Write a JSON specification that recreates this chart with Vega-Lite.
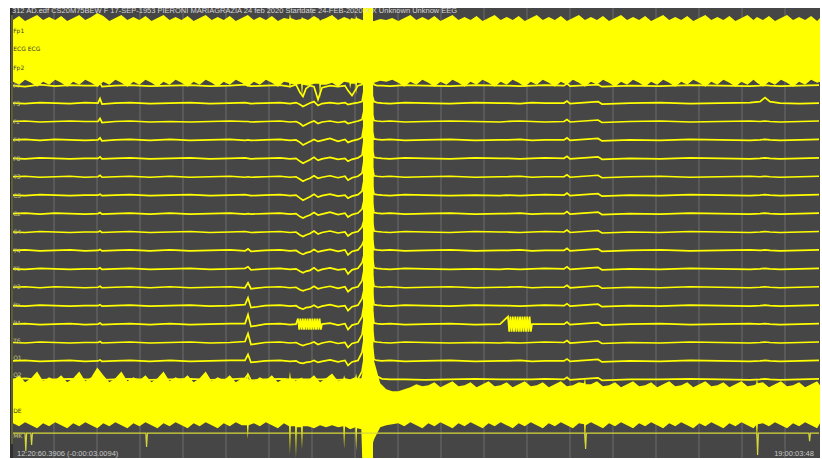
{
"$schema":"https://vega.github.io/schema/vega-lite/v6.json",
"width":822,"height":459,
"autosize":{"type":"fit","contains":"padding"},
"padding":{"left":10,"right":2,"top":7,"bottom":0},
"background":"#ffffff",
"config":{"view":{"fill":"#464646","stroke":null}},
"datasets":{
"grid":[{"t":1},{"t":2},{"t":3},{"t":4},{"t":5},{"t":6},{"t":7},{"t":8},{"t":9},{"t":10},{"t":11},{"t":12},{"t":13},{"t":14},{"t":15},{"t":16},{"t":17},{"t":18}],
"band":[
{"t":0.047,"th":19,"tl":81,"bh":381,"bl":424},{"t":0.187,"th":15,"tl":84,"bh":376,"bl":427},{"t":0.327,"th":20,"tl":79,"bh":383,"bl":423},{"t":0.467,"th":17,"tl":82,"bh":379,"bl":426},{"t":0.607,"th":14,"tl":86,"bh":372,"bl":429},{"t":0.747,"th":19,"tl":81,"bh":382,"bl":424},{"t":0.887,"th":16,"tl":84,"bh":378,"bl":427},{"t":1.027,"th":19,"tl":79,"bh":381,"bl":423},{"t":1.167,"th":15,"tl":82,"bh":376,"bl":426},{"t":1.307,"th":20,"tl":86,"bh":383,"bl":429},{"t":1.447,"th":17,"tl":81,"bh":379,"bl":424},{"t":1.587,"th":14,"tl":84,"bh":372,"bl":427},{"t":1.727,"th":19,"tl":79,"bh":382,"bl":423},{"t":1.867,"th":16,"tl":82,"bh":378,"bl":426},{"t":2.007,"th":12,"tl":86,"bh":368,"bl":429},{"t":2.147,"th":15,"tl":81,"bh":376,"bl":424},{"t":2.287,"th":20,"tl":84,"bh":383,"bl":427},{"t":2.427,"th":17,"tl":79,"bh":379,"bl":423},{"t":2.567,"th":14,"tl":82,"bh":372,"bl":426},{"t":2.707,"th":19,"tl":86,"bh":382,"bl":429},{"t":2.847,"th":16,"tl":81,"bh":378,"bl":424},{"t":2.987,"th":19,"tl":84,"bh":381,"bl":427},{"t":3.127,"th":15,"tl":79,"bh":376,"bl":423},{"t":3.267,"th":20,"tl":82,"bh":383,"bl":426},{"t":3.407,"th":17,"tl":86,"bh":379,"bl":429},{"t":3.547,"th":14,"tl":81,"bh":372,"bl":424},{"t":3.687,"th":19,"tl":84,"bh":382,"bl":427},{"t":3.827,"th":16,"tl":79,"bh":378,"bl":423},{"t":3.967,"th":19,"tl":82,"bh":381,"bl":426},{"t":4.107,"th":15,"tl":86,"bh":376,"bl":429},{"t":4.247,"th":20,"tl":81,"bh":383,"bl":424},{"t":4.387,"th":17,"tl":84,"bh":379,"bl":427},{"t":4.527,"th":14,"tl":79,"bh":372,"bl":423},{"t":4.667,"th":19,"tl":82,"bh":382,"bl":426},{"t":4.807,"th":16,"tl":86,"bh":378,"bl":429},{"t":4.947,"th":19,"tl":81,"bh":381,"bl":424},{"t":5.087,"th":15,"tl":84,"bh":376,"bl":427},{"t":5.227,"th":20,"tl":79,"bh":383,"bl":423},{"t":5.367,"th":17,"tl":82,"bh":379,"bl":426},
{"t":5.487,"bh":379,"bl":426},{"t":5.507,"th":14,"tl":86,"bh":372,"bl":440},{"t":5.527,"bh":380,"bl":426},
{"t":5.647,"th":19,"tl":81,"bh":382,"bl":424},{"t":5.787,"th":16,"tl":84,"bh":378,"bl":427},{"t":5.927,"th":19,"tl":79,"bh":381,"bl":423},{"t":6.067,"th":15,"tl":82,"bh":376,"bl":426},{"t":6.207,"th":20,"tl":86,"bh":383,"bl":429},{"t":6.347,"th":17,"tl":81,"bh":379,"bl":424},
{"t":6.467,"th":18,"tl":82,"bh":380,"bl":427},{"t":6.487,"th":13,"tl":88,"bh":372,"bl":455},{"t":6.507,"th":17,"tl":83,"bh":379,"bl":427},
{"t":6.607,"bh":381,"bl":427},{"t":6.627,"th":19,"tl":84,"bh":382,"bl":459},{"t":6.647,"bh":380,"bl":428},
{"t":6.747,"th":18,"tl":83,"bh":379,"bl":428},{"t":6.767,"th":16,"tl":97,"bh":378,"bl":450},{"t":6.787,"th":17,"tl":84,"bh":380,"bl":427},
{"t":6.907,"th":19,"tl":85,"bh":381,"bl":427},{"t":7.047,"th":15,"tl":83,"bh":376,"bl":429},
{"t":7.167,"th":18,"tl":83},{"t":7.187,"th":20,"tl":98,"bh":383,"bl":426},{"t":7.207,"th":19,"tl":84},
{"t":7.327,"th":17,"tl":84,"bh":379,"bl":428},{"t":7.467,"th":14,"tl":82,"bh":374,"bl":426},{"t":7.607,"th":19,"tl":86,"bh":382,"bl":428},
{"t":7.727,"bh":380,"bl":427},{"t":7.747,"th":16,"tl":81,"bh":376,"bl":450},{"t":7.767,"bh":379,"bl":427},
{"t":7.867,"th":18,"tl":82},{"t":7.887,"th":19,"tl":88,"bh":380,"bl":430},{"t":7.907,"th":17,"tl":83},
{"t":8.007,"th":18,"tl":83,"bh":378,"bl":428},{"t":8.027,"th":15,"tl":94,"bh":374,"bl":452},{"t":8.047,"th":17,"tl":82,"bh":379,"bl":429},
{"t":8.147,"bh":379,"bl":430},{"t":8.167,"th":19,"tl":83,"bh":375,"bl":459},
{"t":8.3,"th":20,"tl":80,"bh":300,"bl":459},{"t":8.447,"th":20,"tl":82,"bh":362,"bl":440},{"t":8.587,"th":18,"tl":80,"bh":384,"bl":428},{"t":8.727,"th":19,"tl":81,"bh":390,"bl":426},{"t":8.867,"th":17,"tl":79,"bh":392,"bl":425},{"t":9.007,"th":20,"tl":82,"bh":392,"bl":424},{"t":9.147,"th":17,"tl":86,"bh":390,"bl":427},{"t":9.287,"th":14,"tl":81,"bh":388,"bl":423},{"t":9.427,"th":19,"tl":84,"bh":385,"bl":426},{"t":9.567,"th":16,"tl":79,"bh":387,"bl":429},{"t":9.707,"th":19,"tl":82,"bh":386,"bl":424},{"t":9.847,"th":15,"tl":86,"bh":383,"bl":427},{"t":9.987,"th":20,"tl":81,"bh":388,"bl":423},{"t":10.127,"th":17,"tl":84,"bh":385,"bl":426},{"t":10.267,"th":14,"tl":79,"bh":382,"bl":429},{"t":10.407,"th":19,"tl":82,"bh":387,"bl":424},{"t":10.547,"th":16,"tl":86,"bh":386,"bl":427},{"t":10.687,"th":19,"tl":81,"bh":383,"bl":423},{"t":10.827,"th":15,"tl":84,"bh":388,"bl":426},{"t":10.967,"th":20,"tl":79,"bh":385,"bl":429},{"t":11.107,"th":17,"tl":82,"bh":382,"bl":424},{"t":11.247,"th":14,"tl":86,"bh":387,"bl":427},{"t":11.387,"th":19,"tl":81,"bh":386,"bl":423},{"t":11.527,"th":16,"tl":84,"bh":383,"bl":426},{"t":11.667,"th":19,"tl":79,"bh":388,"bl":429},{"t":11.807,"th":15,"tl":82,"bh":385,"bl":424},{"t":11.947,"th":20,"tl":86,"bh":382,"bl":427},{"t":12.087,"th":17,"tl":81,"bh":387,"bl":423},{"t":12.227,"th":14,"tl":84,"bh":386,"bl":426},{"t":12.367,"th":19,"tl":79,"bh":383,"bl":429},{"t":12.507,"th":16,"tl":82,"bh":388,"bl":424},{"t":12.647,"th":19,"tl":86,"bh":385,"bl":427},{"t":12.787,"th":15,"tl":81,"bh":382,"bl":423},{"t":12.927,"th":20,"tl":84,"bh":387,"bl":426},{"t":13.067,"th":17,"tl":79,"bh":386,"bl":429},{"t":13.207,"th":14,"tl":82,"bh":383,"bl":424},
{"t":13.327,"bh":384,"bl":425},{"t":13.347,"th":19,"tl":86,"bh":378,"bl":445},{"t":13.367,"bh":385,"bl":426},
{"t":13.487,"th":16,"tl":81,"bh":385,"bl":423},{"t":13.627,"th":19,"tl":84,"bh":382,"bl":426},{"t":13.767,"th":15,"tl":79,"bh":387,"bl":429},{"t":13.907,"th":20,"tl":82,"bh":386,"bl":424},{"t":14.047,"th":17,"tl":86,"bh":383,"bl":427},{"t":14.187,"th":14,"tl":81,"bh":388,"bl":423},{"t":14.327,"th":19,"tl":84,"bh":385,"bl":426},{"t":14.467,"th":16,"tl":79,"bh":382,"bl":429},{"t":14.607,"th":19,"tl":82,"bh":387,"bl":424},{"t":14.747,"th":15,"tl":86,"bh":386,"bl":427},{"t":14.887,"th":20,"tl":81,"bh":383,"bl":423},{"t":15.027,"th":17,"tl":84,"bh":388,"bl":426},{"t":15.167,"th":14,"tl":79,"bh":385,"bl":429},{"t":15.307,"th":19,"tl":82,"bh":382,"bl":424},{"t":15.447,"th":16,"tl":86,"bh":387,"bl":427},{"t":15.587,"th":19,"tl":81,"bh":386,"bl":423},{"t":15.727,"th":15,"tl":84,"bh":383,"bl":426},{"t":15.867,"th":20,"tl":79,"bh":388,"bl":429},{"t":16.007,"th":17,"tl":82,"bh":385,"bl":424},{"t":16.147,"th":14,"tl":86,"bh":382,"bl":427},{"t":16.287,"th":19,"tl":81,"bh":387,"bl":423},{"t":16.427,"th":16,"tl":84,"bh":386,"bl":426},{"t":16.567,"th":19,"tl":79,"bh":383,"bl":429},{"t":16.707,"th":15,"tl":82,"bh":388,"bl":424},{"t":16.847,"th":20,"tl":86,"bh":385,"bl":427},{"t":16.987,"th":17,"tl":81,"bh":382,"bl":423},{"t":17.127,"th":14,"tl":84,"bh":387,"bl":426},{"t":17.267,"th":19,"tl":79,"bh":386,"bl":429},
{"t":17.327,"bh":385,"bl":426},{"t":17.347,"th":16,"tl":82,"bh":379,"bl":440},{"t":17.367,"bh":384,"bl":425},
{"t":17.487,"th":19,"tl":86,"bh":383,"bl":424},{"t":17.627,"th":15,"tl":81,"bh":388,"bl":427},{"t":17.767,"th":20,"tl":84,"bh":385,"bl":423},{"t":17.907,"th":17,"tl":79,"bh":382,"bl":426},{"t":18.047,"th":14,"tl":82,"bh":387,"bl":429},{"t":18.187,"th":19,"tl":86,"bh":386,"bl":424},{"t":18.327,"th":16,"tl":81,"bh":383,"bl":427},{"t":18.467,"th":19,"tl":84,"bh":388,"bl":423},{"t":18.607,"th":15,"tl":79,"bh":385,"bl":426},{"t":18.747,"th":20,"tl":82,"bh":382,"bl":429},{"t":18.814,"th":17,"tl":81,"bh":386,"bl":424}],
"tr":[
{"t":0.047,"a":85,"b":102.5,"c":121,"d":139.5,"e":158,"f":176.5,"g":195,"h":213.5,"i":232,"j":250.5,"k":269,"l":287.5,"m":306,"n":324.5,"o":343,"p":361.5,"q":380,"r":434},
{"t":0.326,"a":86,"b":103,"c":120.5,"d":139,"e":158.5,"f":176,"g":195.5,"h":213,"i":232.5,"j":250,"k":269.5,"l":287,"m":306.5,"n":324,"o":343.5,"p":361,"q":379,"r":434},
{"t":0.344,"r":452},{"t":0.363,"r":434},{"t":0.46,"r":434},{"t":0.479,"r":446},{"t":0.498,"r":434},
{"t":0.674,"a":84,"b":102,"c":121.5,"d":140,"e":157.5,"f":177,"g":194.5,"h":214,"i":231.5,"j":251,"k":268.5,"l":288,"m":305.5,"n":325,"o":342.5,"p":362,"q":380.5,"r":434},
{"t":1.023,"a":85.5,"b":102.5,"c":121,"d":139,"e":158,"f":176.5,"g":195,"h":213,"i":232,"j":250.5,"k":269,"l":287,"m":306,"n":324.5,"o":343,"p":361.5,"q":380,"r":434},
{"t":1.372,"a":84.5,"b":103,"c":120.5,"d":139.5,"e":158.5,"f":176,"g":195.5,"h":213.5,"i":232.5,"j":250,"k":269.5,"l":287.5,"m":306.5,"n":324,"o":343.5,"p":361,"q":379.5,"r":434},
{"t":1.721,"a":85,"b":102,"c":121,"d":140,"e":158,"f":177,"g":195,"h":214,"i":232,"j":251,"k":269,"l":288,"m":306,"n":325,"o":343,"p":362,"q":380,"r":434},
{"t":2.023,"a":85,"b":102.5,"c":121,"d":139.5,"e":158,"f":176.5,"g":195,"h":213.5,"i":232,"j":250.5,"k":269,"l":287.5,"m":306,"n":324.5,"o":343,"p":361.5,"q":380,"r":434},
{"t":2.07,"a":82,"b":98,"c":118,"d":137.5,"e":156.5,"f":175,"g":194,"h":212.5,"i":231,"j":249.5,"k":268,"l":286.5,"m":305,"n":323.5,"o":342,"p":360.5,"q":379,"r":434},
{"t":2.116,"a":86,"b":103.5,"c":122,"d":140.5,"e":158.5,"f":177,"g":195.5,"h":214,"i":232.5,"j":251,"k":269.5,"l":288,"m":306.5,"n":325,"o":343.5,"p":362,"q":380.5,"r":434},
{"t":2.419,"a":85,"b":102.5,"c":121,"d":139.5,"e":158,"f":176.5,"g":195,"h":213.5,"i":232,"j":250.5,"k":269,"l":287.5,"m":306,"n":324.5,"o":343,"p":361.5,"q":380,"r":434},
{"t":2.767,"a":84.5,"b":102,"c":120.5,"d":139,"e":157.5,"f":176,"g":194.5,"h":213,"i":231.5,"j":250,"k":268.5,"l":287,"m":305.5,"n":324,"o":342.5,"p":361,"q":379.5,"r":434},
{"t":3.135,"r":434},{"t":3.153,"r":448},{"t":3.172,"r":434},
{"t":3.233,"a":85.5,"b":103,"c":121.5,"d":140,"e":158.5,"f":177,"g":195.5,"h":214,"i":232.5,"j":251,"k":269.5,"l":288,"m":306.5,"n":325,"o":343.5,"p":362,"q":380.5,"r":434},
{"t":3.698,"a":85,"b":102.5,"c":121,"d":139,"e":158,"f":176,"g":195,"h":213,"i":232,"j":250,"k":269,"l":287,"m":306,"n":324,"o":343,"p":361,"q":380,"r":434},
{"t":4.163,"a":84.5,"b":102,"c":121.5,"d":140,"e":157.5,"f":177,"g":194.5,"h":214,"i":231.5,"j":251,"k":268.5,"l":288,"m":305.5,"n":325,"o":342.5,"p":362,"q":379.5,"r":434},
{"t":4.628,"a":85.5,"b":103,"c":121,"d":139.5,"e":158.5,"f":176.5,"g":195.5,"h":213.5,"i":232.5,"j":250.5,"k":269.5,"l":287.5,"m":306.5,"n":324.5,"o":343.5,"p":361.5,"q":380.5,"r":434},
{"t":5.093,"a":85,"b":102.5,"c":120.5,"d":139,"e":158,"f":176,"g":195,"h":213,"i":232,"j":250,"k":269,"l":287,"m":306,"n":324,"o":343,"p":361,"q":380,"r":434},
{"t":5.442,"a":84,"b":102,"c":121,"d":140,"e":157.5,"f":177,"g":194.5,"h":214,"i":231.5,"j":251,"k":268.5,"l":288,"m":305,"n":324,"o":342,"p":361,"q":379,"r":434},
{"t":5.512,"a":85,"b":102.5,"c":121,"d":139.5,"e":158,"f":176.5,"g":195,"h":213.5,"i":232,"j":249,"k":267,"l":283,"m":298,"n":315,"o":334,"p":355,"q":375,"r":434},
{"t":5.581,"a":85.5,"b":103,"c":121.5,"d":140,"e":158.5,"f":177,"g":195.5,"h":214,"i":232.5,"j":251.5,"k":270,"l":289,"m":308,"n":327,"o":345,"p":363,"q":381,"r":434},
{"t":5.907,"a":85,"b":102.5,"c":121,"d":139.5,"e":158,"f":176.5,"g":195,"h":213.5,"i":232,"j":250.5,"k":269,"l":287.5,"m":306,"n":324.5,"o":343,"p":361.5,"q":380,"r":434},
{"t":6.256,"a":84.5,"b":102,"c":120.5,"d":139,"e":157.5,"f":176,"g":194.5,"h":213,"i":231.5,"j":250,"k":268.5,"l":287,"m":305.5,"n":324,"o":342.5,"p":361,"q":379.5,"r":434},
{"t":6.488,"a":86,"b":103,"c":121.5,"d":140,"e":158.5,"f":177,"g":195.5,"h":214,"i":232.5,"j":251,"k":269.5,"l":288,"m":306.5,"n":325,"o":343.5,"p":362,"q":380,"r":434},
{"t":6.628,"a":84,"b":102,"c":121,"d":139.5,"e":158,"f":176.5,"g":195,"h":213.5,"i":232,"j":250.5,"k":269,"l":287.5,"m":306,"n":324.5,"o":343,"p":361.5,"q":380,"r":434},
{"t":6.674,"n":319},{"t":6.702,"n":330},{"t":6.73,"n":319},{"t":6.758,"n":330},{"t":6.786,"n":319},{"t":6.814,"n":330},{"t":6.842,"n":319},{"t":6.87,"n":330},{"t":6.898,"n":319},{"t":6.926,"n":330},{"t":6.954,"n":319},{"t":6.981,"n":330},{"t":7.009,"n":319},{"t":7.037,"n":330},{"t":7.065,"n":319},{"t":7.093,"n":330},{"t":7.121,"n":319},{"t":7.149,"n":330},{"t":7.177,"n":319},{"t":7.205,"n":330},
{"t":6.721,"a":92,"b":104,"c":123,"d":142,"e":161,"f":179,"g":198,"h":216.5,"i":235,"j":253,"k":271.5,"l":290,"m":308.5,"o":345,"p":363.5,"q":380,"r":434},
{"t":6.791,"a":96,"b":106,"c":125.5,"d":144.5,"e":163,"f":181,"g":200,"h":218,"i":236.5,"j":254.5,"k":273,"l":291,"m":309.5,"o":346,"p":364,"q":380,"r":434},
{"t":6.86,"a":88,"b":104.5,"c":124,"d":143,"e":161.5,"f":179.5,"g":198.5,"h":216.5,"i":235,"j":253,"k":271.5,"l":290,"m":308,"o":345,"p":363,"q":380,"r":434},
{"t":6.953,"a":85,"b":102.5,"c":122,"d":141,"e":159.5,"f":178,"g":196.5,"h":215,"i":233.5,"j":252,"k":270.5,"l":289,"m":307.5,"o":344,"p":362.5,"q":380,"r":434},
{"t":7.047,"a":86,"b":101,"c":120.5,"d":139,"e":157,"f":175.5,"g":194,"h":212.5,"i":231,"j":249.5,"k":268,"l":286.5,"m":305.5,"o":342.5,"p":361,"q":380,"r":434},
{"t":7.14,"a":99,"b":105,"c":123,"d":141,"e":160,"f":178,"g":197,"h":215,"i":234,"j":252,"k":271,"l":289,"m":308,"o":345,"p":363,"q":380,"r":434},
{"t":7.233,"a":87,"b":103,"c":121.5,"d":140,"e":158.5,"f":177,"g":195.5,"h":214,"i":232.5,"j":251,"k":269.5,"l":288,"m":306.5,"n":324.5,"o":343.5,"p":362,"q":380,"r":434},
{"t":7.419,"a":85,"b":102,"c":120.5,"d":138,"e":157,"f":175.5,"g":194,"h":212,"i":231,"j":249.5,"k":268,"l":286.5,"m":305,"n":323.5,"o":342,"p":360.5,"q":379.5,"r":434},
{"t":7.605,"a":86,"b":103,"c":122,"d":141,"e":159,"f":177.5,"g":196,"h":214.5,"i":233,"j":251.5,"k":270,"l":288.5,"m":307,"n":325.5,"o":344,"p":362.5,"q":380.5,"r":434},
{"t":7.767,"a":85,"b":102,"c":121,"d":139,"e":158,"f":176,"g":195,"h":213,"i":232,"j":250,"k":269,"l":287,"m":306,"n":324,"o":343,"p":361,"q":380,"r":434},
{"t":7.837,"a":90,"b":104,"c":123,"d":142,"e":161,"f":180,"g":198,"h":217,"i":236,"j":255,"k":274,"l":292,"m":311,"n":330,"o":348,"p":366,"q":384,"r":434},
{"t":7.93,"a":95,"b":103,"c":122,"d":140.5,"e":159,"f":177.5,"g":196,"h":214.5,"i":233,"j":251.5,"k":270,"l":288.5,"m":307,"n":325.5,"o":344,"p":362.5,"q":381,"r":434},
{"t":8.07,"a":85,"b":102,"c":120.5,"d":139,"e":157.5,"f":176,"g":194.5,"h":213,"i":231.5,"j":250,"k":268.5,"l":287,"m":305.5,"n":324,"o":342.5,"p":361,"q":379.5,"r":434},
{"t":8.163,"a":84,"b":101,"c":119,"d":137,"e":155,"f":173,"g":191,"h":209,"i":227,"j":245,"k":263,"l":281,"m":299,"n":317,"o":335,"p":353,"q":372,"r":434},
{"t":8.209,"a":70,"b":90,"c":110,"d":125,"e":140,"f":160,"g":180,"h":200,"i":220,"j":240,"k":255,"l":270,"m":290,"n":305,"o":320,"p":340,"q":360,"r":434},
{"t":8.221,"a":0,"b":470,"c":0,"d":470,"e":0,"f":470,"g":0,"h":470,"i":0,"j":470,"k":0,"l":470,"m":0,"n":470,"o":0,"p":470,"q":0},
{"t":8.237,"a":470,"b":0,"c":470,"d":0,"e":470,"f":0,"g":470,"h":0,"i":470,"j":0,"k":470,"l":0,"m":470,"n":0,"o":470,"p":0,"q":470},
{"t":8.253,"a":0,"b":470,"c":0,"d":470,"e":0,"f":470,"g":0,"h":470,"i":0,"j":470,"k":0,"l":470,"m":0,"n":470,"o":0,"p":470,"q":0},
{"t":8.27,"a":470,"b":0,"c":470,"d":0,"e":470,"f":0,"g":470,"h":0,"i":470,"j":0,"k":470,"l":0,"m":470,"n":0,"o":470,"p":0,"q":470},
{"t":8.286,"a":0,"b":470,"c":0,"d":470,"e":0,"f":470,"g":0,"h":470,"i":0,"j":470,"k":0,"l":470,"m":0,"n":470,"o":0,"p":470,"q":0},
{"t":8.302,"a":470,"b":0,"c":470,"d":0,"e":470,"f":0,"g":470,"h":0,"i":470,"j":0,"k":470,"l":0,"m":470,"n":0,"o":470,"p":0,"q":470},
{"t":8.319,"a":0,"b":470,"c":0,"d":470,"e":0,"f":470,"g":0,"h":470,"i":0,"j":470,"k":0,"l":470,"m":0,"n":470,"o":0,"p":470,"q":0},
{"t":8.335,"a":470,"b":0,"c":470,"d":0,"e":470,"f":0,"g":470,"h":0,"i":470,"j":0,"k":470,"l":0,"m":470,"n":0,"o":470,"p":0,"q":470},
{"t":8.351,"a":0,"b":470,"c":0,"d":470,"e":0,"f":470,"g":0,"h":470,"i":0,"j":470,"k":0,"l":470,"m":0,"n":470,"o":0,"p":470,"q":0},
{"t":8.367,"a":470,"b":0,"c":470,"d":0,"e":470,"f":0,"g":470,"h":0,"i":470,"j":0,"k":470,"l":0,"m":470,"n":0,"o":470,"p":0,"q":470},
{"t":8.384,"a":0,"b":470,"c":0,"d":470,"e":0,"f":470,"g":0,"h":470,"i":0,"j":470,"k":0,"l":470,"m":0,"n":470,"o":0,"p":470,"q":0},
{"t":8.407,"a":80,"b":96,"c":114,"d":132,"e":150,"f":168,"g":186,"h":204,"i":222,"j":240,"k":258,"l":276,"m":294,"n":312,"o":330,"p":348,"q":362,"r":434},
{"t":8.442,"a":84,"b":101,"c":120,"d":138.5,"e":157,"f":175.5,"g":194,"h":212.5,"i":231,"j":249.5,"k":268,"l":286.5,"m":305,"n":323.5,"o":342,"p":360,"q":372,"r":434},
{"t":8.512,"a":85,"b":102,"c":120.5,"d":139,"e":157.5,"f":176,"g":194.5,"h":213,"i":231.5,"j":250,"k":268.5,"l":287,"m":305.5,"n":324,"o":342.5,"p":361,"q":377,"r":434},
{"t":8.628,"a":85,"b":102.5,"c":121,"d":139.5,"e":158,"f":176.5,"g":195,"h":213.5,"i":232,"j":250.5,"k":269,"l":287.5,"m":306,"n":324.5,"o":343,"p":361.5,"q":379.5,"r":434},
{"t":8.814,"a":85.5,"b":103,"c":120.5,"d":139,"e":158.5,"f":176,"g":195.5,"h":213,"i":232.5,"j":250,"k":269.5,"l":287,"m":306.5,"n":324,"o":343.5,"p":361,"q":380,"r":434},
{"t":9.163,"a":84.5,"b":102,"c":121.5,"d":140,"e":157.5,"f":177,"g":194.5,"h":214,"i":231.5,"j":251,"k":268.5,"l":288,"m":305.5,"n":325,"o":342.5,"p":362,"q":380,"r":434},
{"t":9.628,"a":85,"b":102.5,"c":121,"d":139.5,"e":158,"f":176.5,"g":195,"h":213.5,"i":232,"j":250.5,"k":269,"l":287.5,"m":306,"n":324.5,"o":343,"p":361.5,"q":380.5,"r":434},
{"t":10.209,"a":85.5,"b":103,"c":120.5,"d":139,"e":158.5,"f":176,"g":195.5,"h":213,"i":232.5,"j":250,"k":269.5,"l":287,"m":306.5,"n":324,"o":343.5,"p":361,"q":380,"r":434},
{"t":10.791,"a":84.5,"b":102,"c":121,"d":140,"e":157.5,"f":177,"g":195,"h":214,"i":231.5,"j":251,"k":269,"l":288,"m":305.5,"n":325,"o":343,"p":362,"q":379.5,"r":434},
{"t":11.372,"a":85,"b":102.5,"c":121.5,"d":139.5,"e":158,"f":176.5,"g":195.5,"h":213.5,"i":232,"j":250.5,"k":269.5,"l":287.5,"m":306,"n":324.5,"o":343.5,"p":361.5,"q":380,"r":434},
{"t":11.53,"a":85,"b":102.5,"c":121,"d":139.5,"e":158,"f":176.5,"g":195,"h":213.5,"i":232,"j":250.5,"k":269,"l":287.5,"m":306,"o":343,"p":361.5,"q":380,"r":434},
{"t":11.558,"n":317},{"t":11.586,"n":332},{"t":11.614,"n":317},{"t":11.642,"n":332},{"t":11.67,"n":317},{"t":11.698,"n":332},{"t":11.726,"n":317},{"t":11.754,"n":332},{"t":11.782,"n":317},{"t":11.81,"n":332},{"t":11.838,"n":317},{"t":11.865,"n":332},{"t":11.893,"n":317},{"t":11.921,"n":332},{"t":11.949,"n":317},{"t":11.977,"n":332},{"t":12.005,"n":317},{"t":12.033,"n":332},{"t":12.061,"n":317},{"t":12.089,"n":332},
{"t":11.837,"a":85.5,"b":103,"c":120.5,"d":139,"e":158.5,"f":176,"g":195.5,"h":213,"i":232.5,"j":250,"k":269.5,"l":287,"m":306.5,"o":343.5,"p":361,"q":380,"r":434},
{"t":12.116,"a":85,"b":102,"c":121,"d":140,"e":158,"f":177,"g":195,"h":214,"i":232,"j":251,"k":269,"l":288,"m":306,"n":324.5,"o":343,"p":362,"q":380,"r":434},
{"t":12.419,"a":84.5,"b":102.5,"c":121.5,"d":139.5,"e":157.5,"f":176.5,"g":194.5,"h":213.5,"i":231.5,"j":250.5,"k":268.5,"l":287.5,"m":305.5,"n":324.5,"o":342.5,"p":361.5,"q":379.5,"r":434},
{"t":12.86,"a":85,"b":102.5,"c":121,"d":139.5,"e":158,"f":176.5,"g":195,"h":213.5,"i":232,"j":250.5,"k":269,"l":287.5,"m":306,"n":324.5,"o":343,"p":361.5,"q":380,"r":434},
{"t":12.93,"a":83,"b":100.5,"c":119,"d":137.5,"e":156,"f":174.5,"g":193,"h":211.5,"i":230,"j":248.5,"k":267,"l":285.5,"m":304,"n":322.5,"o":341,"p":359.5,"q":378,"r":434},
{"t":13.0,"a":85.5,"b":103,"c":121.5,"d":140,"e":158.5,"f":177,"g":195.5,"h":214,"i":232.5,"j":251,"k":269.5,"l":288,"m":306.5,"n":325,"o":343.5,"p":362,"q":380.5,"r":434},
{"t":13.345,"r":434},{"t":13.363,"r":450},{"t":13.381,"r":434},
{"t":13.651,"a":84,"b":101,"c":119.5,"d":138,"e":156.5,"f":175,"g":193.5,"h":212,"i":230.5,"j":249,"k":267.5,"l":286,"m":304.5,"n":323,"o":341.5,"p":360,"q":378.5,"r":434},
{"t":13.744,"a":86,"b":103.5,"c":122,"d":140.5,"e":159,"f":177.5,"g":196,"h":214.5,"i":233,"j":251.5,"k":270,"l":288.5,"m":307,"n":325.5,"o":344,"p":362.5,"q":381,"r":434},
{"t":14.395,"a":85,"b":102.5,"c":121,"d":139.5,"e":158,"f":176.5,"g":195,"h":213.5,"i":232,"j":250.5,"k":269,"l":287.5,"m":306,"n":324.5,"o":343,"p":361.5,"q":380,"r":434},
{"t":15.093,"a":85.5,"b":102,"c":120.5,"d":140,"e":158.5,"f":176,"g":195.5,"h":214,"i":232.5,"j":250,"k":269.5,"l":288,"m":306.5,"n":324,"o":343.5,"p":362,"q":380,"r":434},
{"t":15.791,"a":84.5,"b":103,"c":121.5,"d":139,"e":157.5,"f":177,"g":194.5,"h":213,"i":231.5,"j":251,"k":268.5,"l":287,"m":305.5,"n":325,"o":342.5,"p":361,"q":379.5,"r":434},
{"t":16.488,"a":85,"b":102.5,"c":121,"d":139.5,"e":158,"f":176.5,"g":195,"h":213.5,"i":232,"j":250.5,"k":269,"l":287.5,"m":306,"n":324.5,"o":343,"p":361.5,"q":380,"r":434},
{"t":17.186,"a":85.5,"b":102,"c":120.5,"d":140,"e":158.5,"f":176,"g":195.5,"h":214,"i":232.5,"j":250,"k":269.5,"l":288,"m":306.5,"n":324,"o":343.5,"p":362,"q":380.5,"r":434},
{"t":17.345,"r":434},{"t":17.363,"r":456},{"t":17.381,"r":434},
{"t":17.419,"a":85,"b":101,"c":121,"d":139.5,"e":158,"f":176.5,"g":195,"h":213.5,"i":232,"j":250.5,"k":269,"l":287.5,"m":306,"n":324.5,"o":343,"p":361.5,"q":380,"r":434},
{"t":17.535,"a":84.5,"b":97,"c":120.5,"d":139,"e":157.5,"f":176,"g":194.5,"h":213,"i":231.5,"j":250,"k":268.5,"l":287,"m":305.5,"n":324,"o":342.5,"p":361,"q":379.5,"r":434},
{"t":17.651,"a":85,"b":101,"c":121,"d":139.5,"e":158,"f":176.5,"g":195,"h":213.5,"i":232,"j":250.5,"k":269,"l":287.5,"m":306,"n":324.5,"o":343,"p":361.5,"q":380,"r":434},
{"t":17.884,"a":85.5,"b":102.5,"c":121.5,"d":140,"e":158.5,"f":177,"g":195.5,"h":214,"i":232.5,"j":251,"k":269.5,"l":288,"m":306.5,"n":325,"o":343.5,"p":362,"q":380.5,"r":434},
{"t":18.349,"a":85,"b":103,"c":121,"d":139.5,"e":158,"f":176.5,"g":195,"h":213.5,"i":232,"j":250.5,"k":269,"l":287.5,"m":306,"n":324.5,"o":343,"p":361.5,"q":380,"r":434},
{"t":18.554,"r":434},{"t":18.572,"r":442},{"t":18.591,"r":434},
{"t":18.791,"a":84.5,"b":102.5,"c":120.5,"d":139,"e":157.5,"f":176,"g":194.5,"h":213,"i":231.5,"j":250,"k":268.5,"l":287,"m":305.5,"n":324,"o":342.5,"p":361,"q":379.5,"r":434}],
"lab":[{"n":"F7","y":85},{"n":"F3","y":103},{"n":"Fz","y":122},{"n":"F4","y":140},{"n":"F8","y":159},{"n":"T3","y":177},{"n":"C3","y":196},{"n":"Cz","y":214},{"n":"C4","y":232},{"n":"T4","y":251},{"n":"T5","y":269},{"n":"P3","y":287},{"n":"Pz","y":305},{"n":"P4","y":323},{"n":"T6","y":341},{"n":"O1","y":359},{"n":"O2","y":376},{"n":"MK","y":437}],
"labd":[{"n":"Fp1","y":30},{"n":"ECG ECG","y":48},{"n":"Fp2","y":67},{"n":"DE","y":412}]
},
"layer":[
{"data":{"values":[{}]},"mark":{"type":"rect","color":"#303030","clip":true},
 "encoding":{"x":{"datum":-0.05,"type":"quantitative","scale":{"domain":[-0.0233,18.814],"nice":false,"zero":false},"axis":null},"x2":{"datum":0.047},
 "y":{"datum":7,"type":"quantitative","scale":{"domain":[7,459],"reverse":true,"nice":false,"zero":false},"axis":null},"y2":{"datum":459}}},
{"data":{"name":"grid"},"mark":{"type":"rule","color":"#6c6c6c","strokeWidth":1},
 "encoding":{"x":{"field":"t","type":"quantitative","scale":{"domain":[-0.0233,18.814],"nice":false,"zero":false},"axis":null}}},
{"data":{"values":[{}]},"mark":{"type":"rule","color":"#8f8f3c","strokeWidth":1},
 "encoding":{"x":{"datum":0.023,"type":"quantitative","scale":{"domain":[-0.0233,18.814],"nice":false,"zero":false},"axis":null},
 "y":{"datum":14,"type":"quantitative","scale":{"domain":[7,459],"reverse":true,"nice":false,"zero":false},"axis":null},"y2":{"datum":445}}},
{"data":{"name":"band"},"mark":{"type":"area","color":"#ffff00","clip":true,"invalid":"filter"},
 "encoding":{"x":{"field":"t","type":"quantitative","scale":{"domain":[-0.0233,18.814],"nice":false,"zero":false},"axis":null},
 "y":{"field":"th","type":"quantitative","scale":{"domain":[7,459],"reverse":true,"nice":false,"zero":false},"axis":null},"y2":{"field":"tl"}}},
{"data":{"name":"band"},"mark":{"type":"area","color":"#ffff00","clip":true,"invalid":"filter"},
 "encoding":{"x":{"field":"t","type":"quantitative","scale":{"domain":[-0.0233,18.814],"nice":false,"zero":false},"axis":null},
 "y":{"field":"bh","type":"quantitative","scale":{"domain":[7,459],"reverse":true,"nice":false,"zero":false},"axis":null},"y2":{"field":"bl"}}},
{"data":{"name":"tr"},"transform":[{"fold":["a","b","c","d","e","f","g","h","i","j","k","l","m","n","o","p","q"],"as":["k","v"]}],
 "mark":{"type":"line","color":"#ffff00","strokeWidth":1.7,"clip":true,"invalid":"filter"},
 "encoding":{"x":{"field":"t","type":"quantitative","scale":{"domain":[-0.0233,18.814],"nice":false,"zero":false},"axis":null},
 "y":{"field":"v","type":"quantitative","scale":{"domain":[7,459],"reverse":true,"nice":false,"zero":false},"axis":null},"detail":{"field":"k"}}},
{"data":{"name":"tr"},"transform":[{"fold":["r"],"as":["k","v"]}],
 "mark":{"type":"line","color":"#d6d63a","strokeWidth":1.2,"clip":true,"invalid":"filter"},
 "encoding":{"x":{"field":"t","type":"quantitative","scale":{"domain":[-0.0233,18.814],"nice":false,"zero":false},"axis":null},
 "y":{"field":"v","type":"quantitative","scale":{"domain":[7,459],"reverse":true,"nice":false,"zero":false},"axis":null},"detail":{"field":"k"}}},
{"data":{"name":"lab"},"mark":{"type":"text","align":"left","baseline":"middle","fontSize":6,"font":"DejaVu Sans","color":"#c8c878"},
 "encoding":{"x":{"datum":0.05,"type":"quantitative","scale":{"domain":[-0.0233,18.814],"nice":false,"zero":false},"axis":null},
 "y":{"field":"y","type":"quantitative","scale":{"domain":[7,459],"reverse":true,"nice":false,"zero":false},"axis":null},"text":{"field":"n"}}},
{"data":{"name":"labd"},"mark":{"type":"text","align":"left","baseline":"middle","fontSize":6,"font":"DejaVu Sans","color":"#3a3a3a"},
 "encoding":{"x":{"datum":0.05,"type":"quantitative","scale":{"domain":[-0.0233,18.814],"nice":false,"zero":false},"axis":null},
 "y":{"field":"y","type":"quantitative","scale":{"domain":[7,459],"reverse":true,"nice":false,"zero":false},"axis":null},"text":{"field":"n"}}},
{"data":{"values":[{}]},"mark":{"type":"text","align":"left","baseline":"middle","fontSize":7.5,"font":"Liberation Sans","color":"#d8d8d8"},
 "encoding":{"x":{"datum":0.023,"type":"quantitative","scale":{"domain":[-0.0233,18.814],"nice":false,"zero":false},"axis":null},
 "y":{"datum":10.5,"type":"quantitative","scale":{"domain":[7,459],"reverse":true,"nice":false,"zero":false},"axis":null},
 "text":{"value":"312 AD.edf  CS20M75BEW F 17-SEP-1953 PIERONI MARIAGRAZIA  24 feb 2020  Startdate 24-FEB-2020 X X Unknown Unknow EEG"}}},
{"data":{"values":[{}]},"mark":{"type":"text","align":"left","baseline":"middle","fontSize":7.5,"font":"Liberation Sans","color":"#c8c8c8"},
 "encoding":{"x":{"datum":0.14,"type":"quantitative","scale":{"domain":[-0.0233,18.814],"nice":false,"zero":false},"axis":null},
 "y":{"datum":455,"type":"quantitative","scale":{"domain":[7,459],"reverse":true,"nice":false,"zero":false},"axis":null},
 "text":{"value":"12:20:60.3906 (-0:00:03.0094)"}}},
{"data":{"values":[{}]},"mark":{"type":"text","align":"right","baseline":"middle","fontSize":7.5,"font":"Liberation Sans","color":"#c8c8c8"},
 "encoding":{"x":{"datum":18.67,"type":"quantitative","scale":{"domain":[-0.0233,18.814],"nice":false,"zero":false},"axis":null},
 "y":{"datum":455,"type":"quantitative","scale":{"domain":[7,459],"reverse":true,"nice":false,"zero":false},"axis":null},
 "text":{"value":"19:00:03:48"}}}
]
}
